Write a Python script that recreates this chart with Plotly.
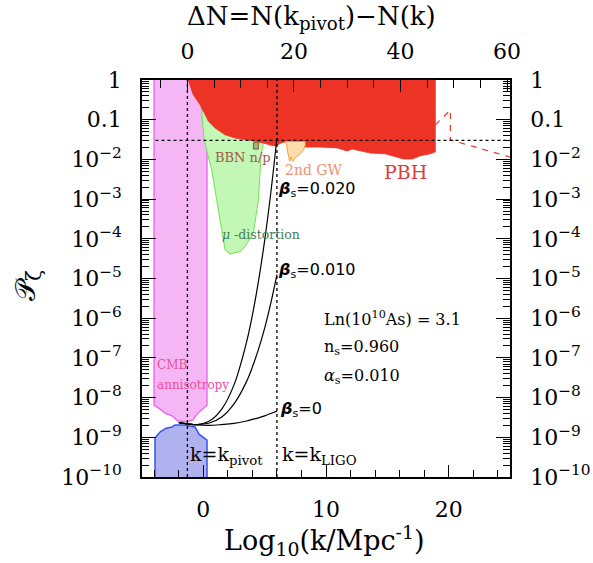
import numpy as np
import plotly.graph_objects as go

# ---------------- data ----------------
LOG10_K_PIVOT = -1.3          # log10(k_pivot / Mpc^-1)
LOG10_K_LIGO = 6.0
P_PBH_REF = 0.03

# CMB anisotropy region (x = log10 k, logP = log10 P_zeta)
cmb_x = [-4.02, -4.02, -3.53, -3.13, -2.56, -2.07, -1.41, -0.84, -0.51, -0.11, 0.30, 0.30]
cmb_logP = [0.1, -8.19, -8.29, -8.39, -8.46, -8.59, -8.61, -8.56, -8.41, -8.31, -8.19, 0.1]

# Planck measured amplitude (blue)
planck_x = [-3.94, -3.94, -3.53, -3.04, -2.56, -2.31, -1.49, -0.68, -0.35, 0.14, 0.30, 0.30]
planck_logP = [-10.1, -9.02, -8.87, -8.77, -8.74, -8.69, -8.69, -8.74, -8.92, -9.04, -9.07, -10.1]

# mu-distortion (green)
mu_x = [-0.27, -0.13, 0.06, 0.38, 0.69, 1.09, 1.50, 1.77, 2.18, 3.00, 3.40, 4.08, 4.49, 4.63, 4.71, 4.87, 4.79, 2.0]
mu_logP = [-0.50, -0.78, -1.51, -1.89, -2.27, -3.02, -3.85, -4.28, -4.38, -4.32, -4.20, -3.85, -3.02, -2.27, -1.89, -1.64, -1.26, -0.6]

# PBH (red)
pbh_x = [-1.22, -1.20, -0.82, -0.27, 0.14, 0.41, 0.96, 1.77, 2.59, 3.40, 4.22, 5.04, 5.44, 5.85,
         6.40, 6.90, 7.49, 8.14, 9.53, 10.91, 11.73, 12.14, 12.80, 13.61, 14.83, 15.66, 16.31,
         17.04, 17.69, 18.50, 18.91, 18.91]
pbh_logP = [0.1, -0.03, -0.37, -0.62, -0.87, -1.04, -1.21, -1.38, -1.46, -1.50, -1.54, -1.60, -1.64, -1.66,
            -1.58, -1.54, -1.59, -1.69, -1.69, -1.71, -1.79, -1.74, -1.79, -1.84, -1.86, -1.94, -1.99,
            -1.99, -1.91, -1.86, -1.81, 0.1]

# PBH dashed extension
pbh_dash_x = [18.91, 20.14, 20.14, 25.0]
pbh_dash_logP = [-1.13, -0.76, -1.51, -1.94]

# 2nd-order GW (orange)
gw_x = [6.70, 6.76, 6.87, 7.04, 7.16, 7.28, 7.49, 7.89, 8.18, 8.30, 8.30]
gw_logP = [-1.55, -1.59, -1.81, -2.05, -1.94, -2.05, -1.96, -1.86, -1.76, -1.64, -1.55]

# BBN n/p (small box)
bbn_x = [4.09, 4.49]
bbn_logP = [-1.74, -1.57]

# power spectra for beta_s = 0, 0.010, 0.020
curve_x = [-2.0, -1.3, -0.5, 0.5, 1.5, 2.5, 3.5, 4.0, 4.5, 5.0, 5.5, 6.0]
curve_beta0_logP = [-8.63, -8.66, -8.69, -8.70, -8.68, -8.65, -8.59, -8.55, -8.51, -8.46, -8.40, -8.34]
curve_beta010_logP = [-8.63, -8.66, -8.68, -8.64, -8.49, -8.16, -7.61, -7.23, -6.78, -6.25, -5.62, -4.90]
curve_beta020_logP = [-8.63, -8.66, -8.68, -8.59, -8.29, -7.68, -6.63, -5.92, -5.06, -4.04, -2.84, -1.46]

# tick labels
y_tickvals = [1e-10, 1e-9, 1e-8, 1e-7, 1e-6, 1e-5, 1e-4, 1e-3, 1e-2, 0.1, 1]
y_ticktext = ["10<sup>−10</sup>", "10<sup>−9</sup>", "10<sup>−8</sup>", "10<sup>−7</sup>",
              "10<sup>−6</sup>", "10<sup>−5</sup>", "10<sup>−4</sup>", "10<sup>−3</sup>",
              "10<sup>−2</sup>", "0.1", "1"]
x_tickvals = [0, 10, 20]
top_tickvals = [0, 20, 40, 60]

# ---------------- figure ----------------
def P(logs):
    return [10 ** v for v in logs]

SERIF = "DejaVu Serif"
SANS = "DejaVu Sans"

fig = go.Figure()

def region(x, logp, fill, line, width=1.2):
    fig.add_trace(go.Scatter(x=x, y=P(logp), mode="lines", fill="toself",
                             fillcolor=fill, line=dict(color=line, width=width),
                             hoverinfo="skip", showlegend=False))

region(cmb_x, cmb_logP, "#f4b6f4", "#ee5fee", 1.3)
region(mu_x, mu_logP, "#c3f7b5", "#72e05a", 1.0)
region(planck_x, planck_logP, "#b0b1ef", "#3355ee", 1.5)
region(pbh_x, pbh_logP, "#ec3326", "#ec3326", 0.8)
region(gw_x, gw_logP, "#fcdcab", "#f2a040", 1.0)
region([bbn_x[0], bbn_x[1], bbn_x[1], bbn_x[0], bbn_x[0]],
       [bbn_logP[0], bbn_logP[0], bbn_logP[1], bbn_logP[1], bbn_logP[0]],
       "#9fb47c", "#8b5a3a", 1.0)

# dashed PBH extension
fig.add_trace(go.Scatter(x=pbh_dash_x, y=P(pbh_dash_logP), mode="lines",
                         line=dict(color="#ec3326", width=1.2, dash="6px,6px"),
                         hoverinfo="skip", showlegend=False))

# dotted reference lines
dot = dict(color="black", width=1.3, dash="dot")
fig.add_trace(go.Scatter(x=[LOG10_K_PIVOT, LOG10_K_PIVOT], y=[1e-10, 1], mode="lines",
                         line=dot, hoverinfo="skip", showlegend=False))
fig.add_trace(go.Scatter(x=[LOG10_K_LIGO, LOG10_K_LIGO], y=[1e-10, 1], mode="lines",
                         line=dot, hoverinfo="skip", showlegend=False))
fig.add_trace(go.Scatter(x=[-3.9, 25], y=[P_PBH_REF, P_PBH_REF], mode="lines",
                         line=dot, hoverinfo="skip", showlegend=False))

# spectra
for ys in (curve_beta0_logP, curve_beta010_logP, curve_beta020_logP):
    fig.add_trace(go.Scatter(x=curve_x, y=P(ys), mode="lines",
                             line=dict(color="black", width=1.2, shape="spline"),
                             hoverinfo="skip", showlegend=False))

# invisible trace on the secondary axes
LN10 = np.log(10)
fig.add_trace(go.Scatter(x=[0], y=[1e-5], xaxis="x2", yaxis="y2", mode="markers",
                         marker=dict(opacity=0), hoverinfo="skip", showlegend=False))

X_RANGE = [-5, 25]
Y_RANGE = [-10, 0]
top_range = [LN10 * (X_RANGE[0] - LOG10_K_PIVOT), LN10 * (X_RANGE[1] - LOG10_K_PIVOT)]

minor_y = [k * 10.0 ** n for n in range(-10, 0) for k in range(2, 10)]

tickfont = dict(family=SERIF, size=22, color="black")

yaxis_common = dict(type="log", range=Y_RANGE, tickvals=y_tickvals, ticktext=y_ticktext,
                    ticks="inside", ticklen=14, tickwidth=1, tickcolor="black",
                    minor=dict(tickvals=minor_y, ticks="inside", ticklen=7, tickwidth=0.8,
                               tickcolor="black", showgrid=False),
                    showline=True, linecolor="black", linewidth=1.5, showgrid=False,
                    zeroline=False, tickfont=tickfont, ticklabelstandoff=14,
                    automargin=False)

fig.update_layout(
    width=593, height=563, autosize=False,
    margin=dict(l=142, r=83, t=80, b=86, autoexpand=False),
    paper_bgcolor="white", plot_bgcolor="white",
    showlegend=False,
    xaxis=dict(range=X_RANGE, tickvals=x_tickvals, ticks="inside", ticklen=12, tickwidth=1,
               tickcolor="black",
               minor=dict(dtick=2, tick0=0, ticks="inside", ticklen=7, tickwidth=1,
                          tickcolor="black", showgrid=False),
               showline=True, linecolor="black", linewidth=1.5, showgrid=False,
               zeroline=False, tickfont=tickfont, ticklabelstandoff=12, automargin=False),
    xaxis2=dict(range=top_range, overlaying="x", side="top", anchor="y",
                tickvals=top_tickvals, ticks="inside", ticklen=12, tickwidth=1,
                tickcolor="black",
                minor=dict(dtick=5, tick0=0, ticks="inside", ticklen=8, tickwidth=1,
                           tickcolor="black", showgrid=False),
                showline=True, linecolor="black", linewidth=1.5, showgrid=False,
                zeroline=False, tickfont=tickfont, ticklabelstandoff=10, automargin=False),
    yaxis=yaxis_common,
    yaxis2=dict(yaxis_common, overlaying="y", side="right", anchor="x"),
)

ann = []

def txt(x, logp, text, size, color="black", family=SERIF):
    ann.append(dict(x=x, y=logp, xref="x", yref="y", text=text, showarrow=False,
                    xanchor="left", yanchor="middle",
                    font=dict(family=family, size=size, color=color)))

txt(5.93, -2.77, "<b><i>β</i></b><sub>s</sub>=0.020", 16, family=SANS)
txt(5.93, -4.79, "<b><i>β</i></b><sub>s</sub>=0.010", 16, family=SANS)
txt(6.10, -8.31, "<b><i>β</i></b><sub>s</sub>=0", 16, family=SANS)
txt(9.69, -6.00, "Ln(10<sup>10</sup>As) = 3.1", 16)
txt(9.69, -6.73, "n<sub>s</sub>=0.960", 16)
txt(9.69, -7.48, "<i>α</i><sub>s</sub>=0.010", 16)
txt(-1.25, -9.45, "k=k<sub>pivot</sub>", 19)
txt(6.26, -9.45, "k=k<sub>LIGO</sub>", 19)
txt(-3.94, -7.18, "CMB", 12, color="#e8509c")
txt(-3.94, -7.68, "annisotropy", 12, color="#e8509c")
txt(0.79, -1.94, "BBN n/p", 13, color="#a05a4a")
txt(6.51, -2.27, "2nd GW", 14, color="#f0906e")
txt(14.59, -2.32, "PBH", 19, color="#e03a3a")
txt(1.36, -3.90, "<i>μ</i> -distortion", 12.5, color="#3f7f5a")

# axis titles
ann.append(dict(x=0.497, y=-0.159, xref="paper", yref="paper", showarrow=False,
                text="Log<sub>10</sub>(k/Mpc<sup>-1</sup>)", xanchor="center", yanchor="middle",
                font=dict(family=SERIF, size=27, color="black")))
ann.append(dict(x=0.46, y=1.158, xref="paper", yref="paper", showarrow=False,
                text="ΔN=N(k<sub>pivot</sub>)−N(k)", xanchor="center", yanchor="middle",
                font=dict(family=SERIF, size=26, color="black")))
ann.append(dict(x=-0.31, y=0.484, xref="paper", yref="paper", showarrow=False,
                text="𝒫<sub>ζ</sub>", textangle=-90, xanchor="center", yanchor="middle",
                font=dict(family=SERIF, size=28, color="black")))

fig.update_layout(annotations=ann)

fig.write_html("out.html", config={"displayModeBar": False},
               post_script="document.body.style.margin='0px';")
